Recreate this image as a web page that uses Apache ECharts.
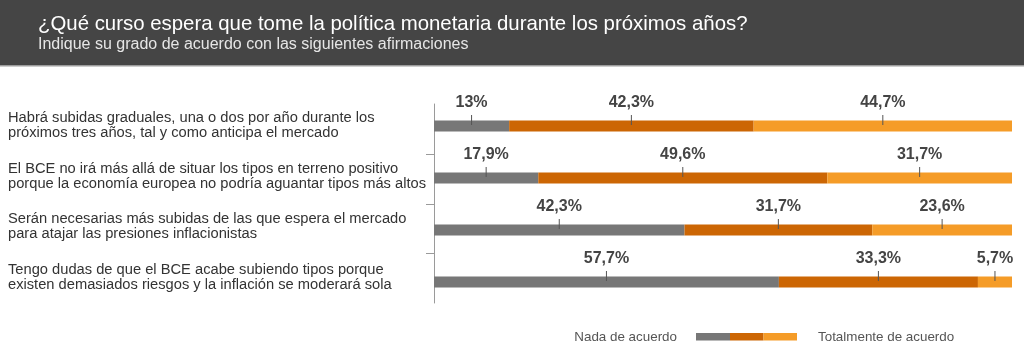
<!DOCTYPE html>
<html><head><meta charset="utf-8">
<script src="https://cdn.jsdelivr.net/npm/echarts@6/dist/echarts.min.js"></script>
<style>html,body{margin:0;padding:0;background:#fff}#c{width:1024px;height:359px}</style>
</head><body><div id="c"></div>
<script>
const titleText = '¿Qué curso espera que tome la política monetaria durante los próximos años?';
const subtitleText = 'Indique su grado de acuerdo con las siguientes afirmaciones';
const categories = [
  'Habrá subidas graduales, una o dos por año durante los\npróximos tres años, tal y como anticipa el mercado',
  'El BCE no irá más allá de situar los tipos en terreno positivo\nporque la economía europea no podría aguantar tipos más altos',
  'Serán necesarias más subidas de las que espera el mercado\npara atajar las presiones inflacionistas',
  'Tengo dudas de que el BCE acabe subiendo tipos porque\nexisten demasiados riesgos y la inflación se moderará sola'
];
const seriesNames = ['Nada de acuerdo', 'De acuerdo', 'Totalmente de acuerdo'];
const nada = [13, 17.9, 42.3, 57.7];
const parcial = [42.3, 49.6, 31.7, 33.3];
const total = [44.7, 31.7, 23.6, 5.7];
const colors = ['#777777', '#cc6604', '#f59c28'];

const raw = [nada, parcial, total];
const rowSum = categories.map((_, i) => raw.reduce((s, a) => s + a[i], 0));
const shares = raw.map(a => a.map((v, i) => v / rowSum[i] * 100));
// centre of each segment (for leader lines)
const centres = [];
shares.forEach((a, s) => a.forEach((v, i) => {
  let start = 0; for (let k = 0; k < s; k++) start += shares[k][i];
  centres.push([start + v / 2, i]);
}));
const fmt = v => String(v).replace('.', ',') + '%';
const FONT = "'Liberation Sans', Arial, Helvetica, sans-serif";

const chart = echarts.init(document.getElementById('c'), null, {renderer: 'canvas'});
const gridL = 434, gridR = 12;
const hiddenX = i => ({type: 'value', gridIndex: i, min: 0, max: 100, show: false});

const option = {
  animation: false,
  backgroundColor: '#ffffff',
  grid: [
    {left: gridL, right: gridR, top: 104, height: 199},   // axis line + ticks
    {left: gridL, right: gridR, top: 100, height: 208},   // bars
    {left: gridL, right: gridR, top: 100, height: 203}    // category labels
  ],
  xAxis: [hiddenX(0), hiddenX(1), hiddenX(2)],
  yAxis: [
    {type: 'category', gridIndex: 0, inverse: true, data: categories,
     axisLine: {show: true, lineStyle: {color: '#9a9a9a', width: 1}},
     axisTick: {show: false}, axisLabel: {show: false}, splitLine: {show: false}},
    {type: 'category', gridIndex: 1, inverse: true, data: categories, show: false},
    {type: 'category', gridIndex: 2, inverse: true, data: categories,
     axisLine: {show: false}, axisTick: {show: false}, splitLine: {show: false},
     axisLabel: {show: true, align: 'left', margin: gridL - 8, fontSize: 14.7, lineHeight: 15,
                 color: '#333333', fontFamily: FONT}}
  ],
  series: [
    ...raw.map((arr, s) => ({
      name: seriesNames[s], type: 'bar', stack: 'all', xAxisIndex: 1, yAxisIndex: 1,
      barWidth: 11, itemStyle: {color: colors[s]},
      data: shares[s].map((v, i) => ({value: v, rawValue: arr[i]})),
      label: {show: true, position: 'top', distance: 10,
              formatter: p => fmt(p.data.rawValue),
              color: '#444444', fontSize: 16, fontWeight: 'bold', fontFamily: FONT}
    })),
    {
      type: 'custom', xAxisIndex: 1, yAxisIndex: 1, z: 5, silent: true,
      data: centres,
      encode: {x: 0, y: 1},
      renderItem: (params, api) => {
        const p = api.coord([api.value(0), api.value(1)]);
        return {type: 'line', shape: {x1: p[0], y1: p[1] - 11, x2: p[0], y2: p[1] - 1},
                style: {stroke: '#555555', lineWidth: 1}};
      }
    },
    {
      type: 'custom', xAxisIndex: 0, yAxisIndex: 0, silent: true,
      data: [[0, 1], [0, 2], [0, 3]],
      encode: {x: 0, y: 1},
      renderItem: (params, api) => {
        const p = api.coord([0, api.value(1)]);
        const band = api.size([0, 1])[1];
        const y = Math.round(p[1] - band / 2) + 0.5;
        return {type: 'line', shape: {x1: p[0] - 8, y1: y, x2: p[0], y2: y},
                style: {stroke: '#9a9a9a', lineWidth: 1}};
      }
    }
  ],
  graphic: [
    {type: 'rect', shape: {x: 0, y: 0, width: 1024, height: 65}, style: {fill: '#454545'}, z: -10},
    {type: 'rect', shape: {x: 0, y: 65, width: 1024, height: 1.5}, style: {fill: '#9c9c9c'}, z: -10},
    {type: 'text', x: 38, y: 24, style: {text: titleText, fill: '#ffffff', font: '20.4px ' + FONT, verticalAlign: 'middle'}},
    {type: 'text', x: 38, y: 44.5, style: {text: subtitleText, fill: '#e6e6e6', font: '16px ' + FONT, verticalAlign: 'middle'}},
    {type: 'text', x: 677, y: 337, style: {text: seriesNames[0], fill: '#555555', font: '13.4px ' + FONT, align: 'right', verticalAlign: 'middle'}},
    {type: 'rect', shape: {x: 696, y: 333, width: 34, height: 7.5}, style: {fill: colors[0]}},
    {type: 'rect', shape: {x: 730, y: 333, width: 33.5, height: 7.5}, style: {fill: colors[1]}},
    {type: 'rect', shape: {x: 763.5, y: 333, width: 33.5, height: 7.5}, style: {fill: colors[2]}},
    {type: 'text', x: 818, y: 337, style: {text: seriesNames[2], fill: '#555555', font: '13.4px ' + FONT, align: 'left', verticalAlign: 'middle'}}
  ]
};
chart.setOption(option);
</script>
</body></html>
